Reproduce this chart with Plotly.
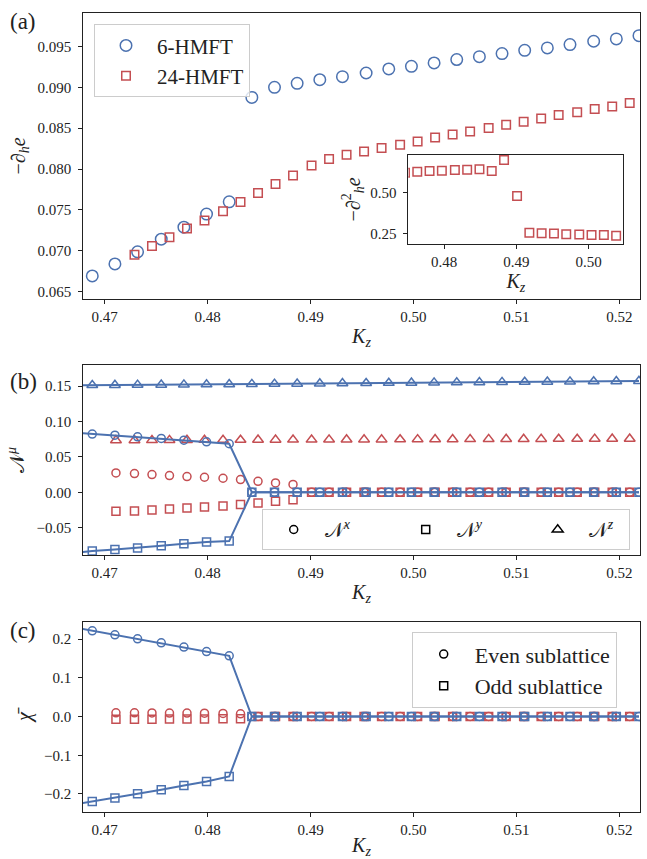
import plotly.graph_objects as go

# ---------------- data ----------------
# K_z grid of the 6-HMFT calculation (first point lies just left of the shown range)
kz_6 = [0.4666, 0.4688, 0.4710, 0.4732, 0.4755, 0.4777, 0.4799, 0.4821, 0.4843,
        0.4865, 0.4887, 0.4909, 0.4931, 0.4954, 0.4976, 0.4998, 0.5020, 0.5042,
        0.5064, 0.5086, 0.5108, 0.5130, 0.5152, 0.5175, 0.5197, 0.5219]
# K_z grid of the 24-HMFT calculation
kz_24 = [0.4711, 0.4729, 0.4746, 0.4763, 0.4780, 0.4797, 0.4815, 0.4832, 0.4849,
         0.4866, 0.4883, 0.4901, 0.4918, 0.4935, 0.4952, 0.4969, 0.4987, 0.5004,
         0.5021, 0.5038, 0.5055, 0.5073, 0.5090, 0.5107, 0.5124, 0.5141, 0.5159,
         0.5176, 0.5193, 0.5210]

# (a) -d_h e
dhe_6 = [0.06692, 0.06839, 0.06987, 0.07142, 0.07289, 0.07449, 0.07599, 0.08877,
         0.09000, 0.09049, 0.09094, 0.09131, 0.09176, 0.09225, 0.09257, 0.09299,
         0.09340, 0.09376, 0.09413, 0.09453, 0.09483, 0.09523, 0.09564, 0.09593,
         0.09633]
dhe_24 = [0.06950, 0.07060, 0.07167, 0.07272, 0.07370, 0.07485, 0.07596, 0.07706,
          0.07816, 0.07922, 0.08044, 0.08123, 0.08175, 0.08216, 0.08257, 0.08298,
          0.08338, 0.08387, 0.08424, 0.08461, 0.08502, 0.08543, 0.08580, 0.08620,
          0.08662, 0.08694, 0.08735, 0.08767, 0.08809]
# inset: -d^2_h e (24-HMFT)
kz_inset = [0.4746, 0.4763, 0.4780, 0.4797, 0.4815, 0.4832, 0.4849, 0.4866, 0.4883,
            0.4901, 0.4918, 0.4935, 0.4952, 0.4969, 0.4987, 0.5004, 0.5021, 0.5038]
d2he_24 = [0.6195, 0.6256, 0.6299, 0.6317, 0.6360, 0.6378, 0.6402, 0.6299, 0.6970,
           0.4774, 0.2537, 0.2500, 0.2494, 0.2439, 0.2430, 0.2396, 0.2390, 0.2354]

# (b) N^mu
Nx_6 = [0.0845, 0.0822, 0.0806, 0.0783, 0.0760, 0.0735, 0.0712, 0.0685] + [0.0] * 18
Ny_6 = [-0.0865, -0.0829, -0.0809, -0.0787, -0.0755, -0.0727, -0.0703, -0.0690] + [0.0] * 18
Nz_6 = [0.1510, 0.1512, 0.1514, 0.1516, 0.1518, 0.1520, 0.1522, 0.1524, 0.1527,
        0.1530, 0.1532, 0.1535, 0.1538, 0.1540, 0.1543, 0.1545, 0.1548, 0.1550,
        0.1553, 0.1555, 0.1558, 0.1560, 0.1562, 0.1565, 0.1567, 0.1570]
Nx_24 = [0.0273, 0.0264, 0.0250, 0.0236, 0.0222, 0.0212, 0.0198, 0.0179, 0.0155,
         0.0131, 0.0110] + [0.0] * 19
Ny_24 = [-0.0268, -0.0264, -0.0250, -0.0236, -0.0222, -0.0208, -0.0194, -0.0174,
         -0.0151, -0.0127, -0.0105] + [0.0] * 19
Nz_24 = [0.0733, 0.0734, 0.0735, 0.0736, 0.0737, 0.0738, 0.0738, 0.0739, 0.0740,
         0.0741, 0.0742, 0.0742, 0.0743, 0.0744, 0.0745, 0.0745, 0.0746, 0.0747,
         0.0748, 0.0748, 0.0749, 0.0750, 0.0751, 0.0751, 0.0752, 0.0753, 0.0753,
         0.0754, 0.0755, 0.0755]

# (c) chi-bar
even_6 = [0.2320, 0.2212, 0.2108, 0.2005, 0.1902, 0.1791, 0.1677, 0.1566] + [0.0] * 18
odd_6 = [-0.2290, -0.2194, -0.2106, -0.1995, -0.1892, -0.1781, -0.1677, -0.1548] + [0.0] * 18
even_24 = [0.0095, 0.0094, 0.0092, 0.0090, 0.0088, 0.0085, 0.0080, 0.0070] + [0.0] * 22
odd_24 = [-0.0070, -0.0069, -0.0068, -0.0067, -0.0066, -0.0064, -0.0060, -0.0055] + [0.0] * 22

# ---------------- style ----------------
BLUE = "#4c72b0"
RED = "#c44e52"
FONT = "Liberation Serif"
TXT = "#222222"
W, H = 647, 859


def fx(p):
    return p / W


def fy(p):
    return 1 - p / H


def mk(symbol, color, size, lw=1.5):
    return dict(symbol=symbol, size=size, color=color,
                line=dict(color=color, width=lw))


def msize(sym, base):
    return base + 1.5 if sym.startswith("triangle") else base


fig = go.Figure()

# (a)
fig.add_trace(go.Scatter(x=kz_6[1:], y=dhe_6, mode="markers", name="6-HMFT",
                         marker=mk("circle-open", BLUE, 11.5), xaxis="x", yaxis="y",
                         legend="legend"))
fig.add_trace(go.Scatter(x=kz_24[1:], y=dhe_24, mode="markers", name="24-HMFT",
                         marker=mk("square-open", RED, 8.5), xaxis="x", yaxis="y",
                         legend="legend"))
# inset
fig.add_trace(go.Scatter(x=kz_inset, y=d2he_24, mode="markers", showlegend=False,
                         marker=mk("square-open", RED, 8.5), xaxis="x4", yaxis="y4"))

# (b) red first, blue on top
for yy, sym in [(Nx_24, "circle-open"), (Ny_24, "square-open"), (Nz_24, "triangle-up-open")]:
    fig.add_trace(go.Scatter(x=kz_24, y=yy, mode="markers", showlegend=False,
                             marker=mk(sym, RED, msize(sym, 8)), xaxis="x2", yaxis="y2"))
for yy, sym in [(Nx_6, "circle-open"), (Ny_6, "square-open"), (Nz_6, "triangle-up-open")]:
    fig.add_trace(go.Scatter(x=kz_6, y=yy, mode="lines+markers", showlegend=False,
                             line=dict(color=BLUE, width=2),
                             marker=mk(sym, BLUE, msize(sym, 8)), xaxis="x2", yaxis="y2"))
for nm, sym, lw in [("𝒩<sup><i>x</i></sup>", "circle-open", 65),
                    ("𝒩<sup><i>y</i></sup>", "square-open", 65),
                    ("𝒩<sup><i>z</i></sup>", "triangle-up-open", 35)]:
    fig.add_trace(go.Scatter(x=[None], y=[None], mode="markers", name=nm,
                             marker=mk(sym, "black", msize(sym, 8)), xaxis="x2", yaxis="y2",
                             legend="legend2", legendwidth=lw))

# (c)
for yy, sym in [(even_24, "circle-open"), (odd_24, "square-open")]:
    fig.add_trace(go.Scatter(x=kz_24, y=yy, mode="markers", showlegend=False,
                             marker=mk(sym, RED, 8), xaxis="x3", yaxis="y3"))
for yy, sym in [(even_6, "circle-open"), (odd_6, "square-open")]:
    fig.add_trace(go.Scatter(x=kz_6, y=yy, mode="lines+markers", showlegend=False,
                             line=dict(color=BLUE, width=2),
                             marker=mk(sym, BLUE, 8), xaxis="x3", yaxis="y3"))
for nm, sym in [("Even sublattice", "circle-open"), ("Odd sublattice", "square-open")]:
    fig.add_trace(go.Scatter(x=[None], y=[None], mode="markers", name=nm,
                             marker=mk(sym, "black", 8), xaxis="x3", yaxis="y3",
                             legend="legend3"))


def ax(**kw):
    d = dict(showline=True, mirror=True, linecolor="#222222", linewidth=1.2,
             ticks="outside", ticklen=4, tickwidth=1.2, tickcolor="#222222",
             showgrid=False, zeroline=False,
             tickfont=dict(family=FONT, size=15, color=TXT),
             title_font=dict(family=FONT, size=20, color=TXT))
    d.update(kw)
    return d


KZ = "<i>K</i><sub><i>z</i></sub>"
xdom = [fx(83), fx(640)]
fig.update_layout(
    width=W, height=H,
    margin=dict(l=0, r=0, t=0, b=0, autoexpand=False),
    paper_bgcolor="white", plot_bgcolor="white",
    showlegend=True,
    xaxis=ax(domain=xdom, anchor="y", range=[0.4679, 0.5220], tick0=0.47, dtick=0.01,
             tickformat=".2f", title=dict(text=KZ, standoff=4)),
    yaxis=ax(domain=[fy(299), fy(13)], anchor="x", range=[0.0641, 0.0991], tick0=0.065,
             dtick=0.005, tickformat=".3f", ticksuffix="\u00a0",
             title=dict(text="−∂<sub><i>h</i></sub><i>e</i>", standoff=6)),
    xaxis2=ax(domain=xdom, anchor="y2", range=[0.4679, 0.5220], tick0=0.47, dtick=0.01,
              tickformat=".2f", title=dict(text=KZ, standoff=4)),
    yaxis2=ax(domain=[fy(555), fy(365)], anchor="x2", range=[-0.0886, 0.1797],
              tick0=0.0, dtick=0.05, tickformat=".2f", ticksuffix="\u00a0",
              title=dict(text="𝒩<sup><i>μ</i></sup>", standoff=6)),
    xaxis3=ax(domain=xdom, anchor="y3", range=[0.4679, 0.5220], tick0=0.47, dtick=0.01,
              tickformat=".2f", title=dict(text=KZ, standoff=4)),
    yaxis3=ax(domain=[fy(811.7), fy(621.7)], anchor="x3", range=[-0.2457, 0.2447],
              tick0=0.0, dtick=0.1, tickformat=".1f", ticksuffix="\u00a0",
              title=dict(text="<i>χ̄</i>", standoff=6)),
    xaxis4=ax(domain=[fx(408.3), fx(623.3)], anchor="y4", range=[0.47506, 0.50479],
              tickvals=[0.48, 0.49, 0.50], ticktext=["0.48", "0.49", "0.50"],
              title=dict(text=KZ, standoff=4)),
    yaxis4=ax(domain=[fy(244), fy(155)], anchor="x4", range=[0.1848, 0.7274],
              tickvals=[0.25, 0.50], ticktext=["0.25\u00a0", "0.50\u00a0"],
              title=dict(text="−∂<sup>2</sup><sub><i>h</i></sub><i>e</i>", standoff=4)),
    legend=dict(x=fx(94), y=fy(24.3), xanchor="left", yanchor="top",
                bgcolor="rgba(255,255,255,0.8)", bordercolor="#cccccc", borderwidth=1,
                font=dict(family=FONT, size=21, color=TXT), itemwidth=52),
    legend2=dict(x=fx(261.7), y=fy(509), xanchor="left", yanchor="top",
                 orientation="h", itemwidth=52,
                 bgcolor="rgba(255,255,255,0.8)", bordercolor="#cccccc", borderwidth=1,
                 font=dict(family=FONT, size=20, color=TXT)),
    legend3=dict(x=fx(411.7), y=fy(632.3), xanchor="left", yanchor="top",
                 bgcolor="rgba(255,255,255,0.8)", bordercolor="#cccccc", borderwidth=1,
                 font=dict(family=FONT, size=22, color=TXT), itemwidth=52),
)

for lab, ycen in [("(a)", 22), ("(b)", 382), ("(c)", 630)]:
    fig.add_annotation(text=lab, x=fx(23), y=fy(ycen), xref="paper", yref="paper",
                       xanchor="center", yanchor="middle", showarrow=False,
                       font=dict(family=FONT, size=23, color=TXT))

fig.write_html("out.html", config={"displayModeBar": False},
               post_script="document.body.style.margin='0';document.body.style.padding='0';")
